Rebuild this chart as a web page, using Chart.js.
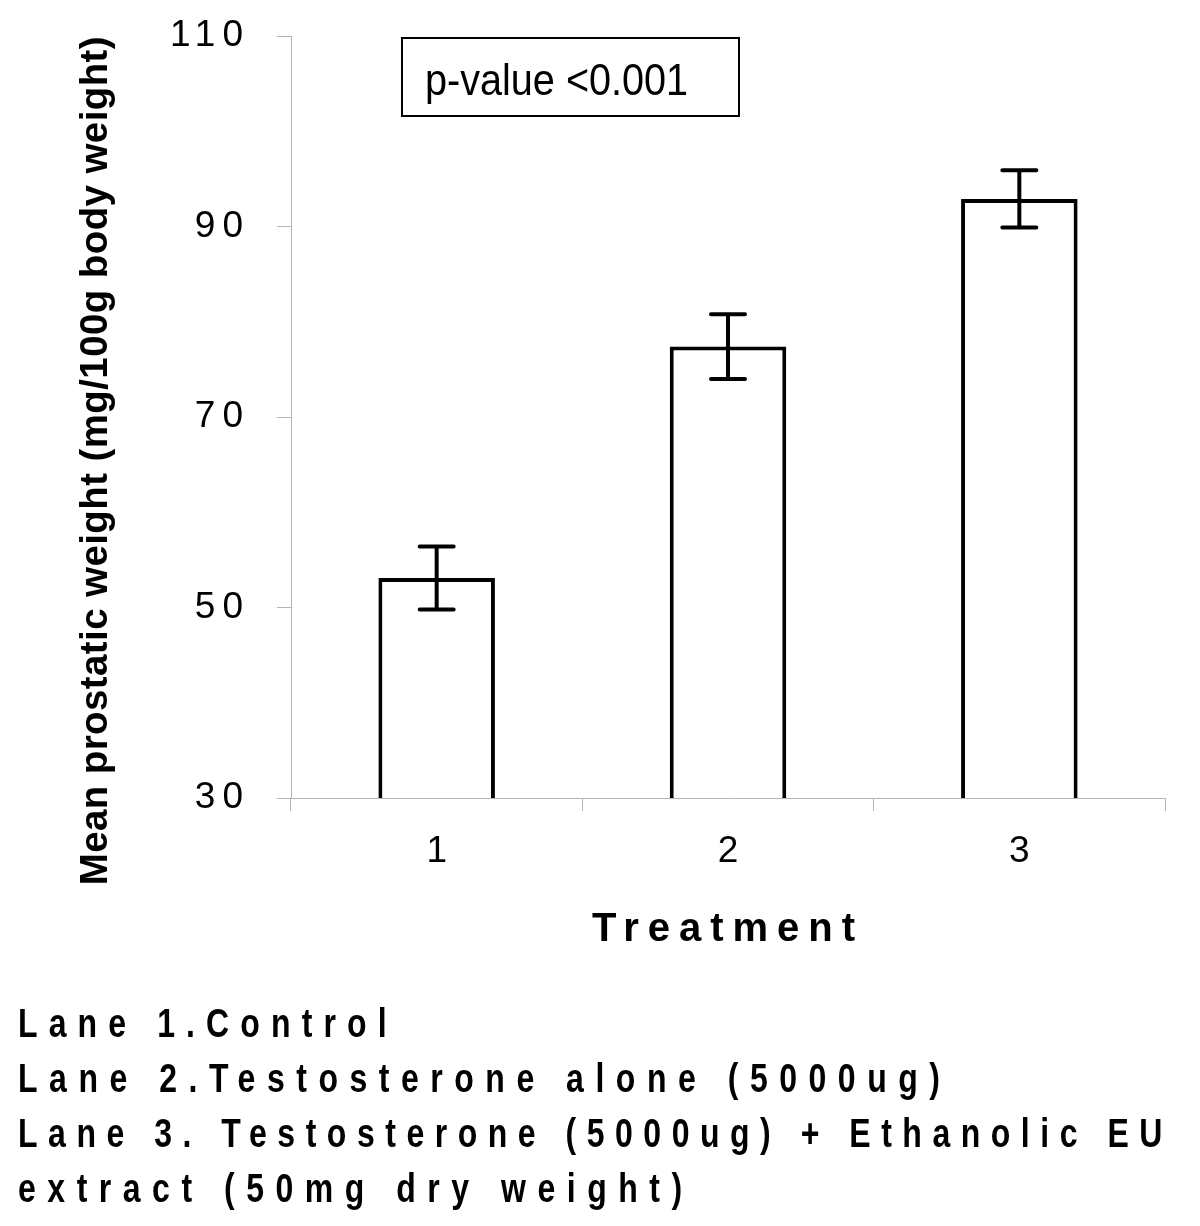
<!DOCTYPE html>
<html>
<head>
<meta charset="utf-8">
<script src="https://cdn.jsdelivr.net/npm/chart.js@4.4.0/dist/chart.umd.min.js"></script>
<style>
  html, body { margin: 0; padding: 0; background: #fff; }
  #wrap { position: relative; width: 1200px; height: 1226px; overflow: hidden; }
  #c { position: absolute; left: 0; top: 0; }
  #footer {
    position: absolute; left: 18px; top: 996px;
    font-family: 'Liberation Sans', Arial, sans-serif; font-weight: bold;
    font-size: 40px; line-height: 55px; letter-spacing: 13px; color: #000;
    transform: scaleX(0.8); transform-origin: 0 0; white-space: nowrap;
  }
  #footer div:nth-child(1) { letter-spacing: 13.9px; }
  #footer div:nth-child(2) { letter-spacing: 14.4px; }
  #footer div:nth-child(3) { letter-spacing: 13.15px; }
  #footer div:nth-child(4) { letter-spacing: 14.4px; }
</style>
</head>
<body>
<div id="wrap">
  <canvas id="c" width="1200" height="1226"></canvas>
  <div id="footer"></div>
</div>
<script>
// ---- data ----
const categories = ['1', '2', '3'];
const meanWeight = [53.1, 77.4, 92.9];
const errorSD = [3.3, 3.4, 3.0];
const yTicks = [30, 50, 70, 90, 110];
const annotationText = 'p-value <0.001';
const xTitle = 'Treatment';
const yTitle = 'Mean prostatic weight (mg/100g body weight)';
const footerLines = [
  'Lane 1.Control',
  'Lane 2.Testosterone alone (5000ug)',
  'Lane 3. Testosterone (5000ug) + Ethanolic EU',
  'extract (50mg dry weight)'
];

document.getElementById('footer').innerHTML = footerLines.map(l => '<div>' + l + '</div>').join('');

const AXIS_GRAY = '#b4b4b4';
const FONT = "'Liberation Sans', Arial, sans-serif";

const spacingPlugin = {
  id: 'spacing',
  afterLayout(chart) {
    const patch = (scale, fn, sp) => {
      if (scale['_p_' + fn]) return;
      const orig = scale[fn];
      scale[fn] = function (...a) {
        const c = this.ctx; const prev = c.letterSpacing;
        c.letterSpacing = sp; orig.apply(this, a); c.letterSpacing = prev;
      };
      scale['_p_' + fn] = true;
    };
    patch(chart.scales.y, 'drawLabels', '7px');
    patch(chart.scales.x, 'drawTitle', '9px');
    patch(chart.scales.y, 'drawTitle', '0.4px');
  }
};

const errorBarPlugin = {
  id: 'errorBars',
  afterDatasetsDraw(chart) {
    const ctx = chart.ctx;
    const meta = chart.getDatasetMeta(0);
    const y = chart.scales.y;
    ctx.save();
    ctx.strokeStyle = '#000'; ctx.lineWidth = 4; ctx.lineCap = 'round';
    meta.data.forEach((bar, i) => {
      const x = bar.x;
      const top = y.getPixelForValue(meanWeight[i] + errorSD[i]);
      const bot = y.getPixelForValue(meanWeight[i] - errorSD[i]);
      const half = 17;
      ctx.beginPath();
      ctx.moveTo(x, top); ctx.lineTo(x, bot);
      ctx.moveTo(x - half, top); ctx.lineTo(x + half, top);
      ctx.moveTo(x - half, bot); ctx.lineTo(x + half, bot);
      ctx.stroke();
    });
    ctx.restore();
  }
};

const annotationPlugin = {
  id: 'pvalueBox',
  afterDraw(chart) {
    const ctx = chart.ctx;
    const a = chart.chartArea;
    const bx = a.left + 111, by = a.top + 2, bw = 337, bh = 78;
    ctx.save();
    ctx.strokeStyle = '#000'; ctx.lineWidth = 2;
    ctx.strokeRect(bx, by, bw, bh);
    ctx.fillStyle = '#000';
    ctx.font = '44px ' + FONT;
    ctx.textBaseline = 'alphabetic';
    ctx.translate(bx + 23, by + 57);
    ctx.scale(0.9, 1);
    ctx.fillText(annotationText, 0, 0);
    ctx.restore();
  }
};

new Chart(document.getElementById('c'), {
  type: 'bar',
  data: {
    labels: categories,
    datasets: [{
      data: meanWeight,
      backgroundColor: '#ffffff',
      borderColor: '#000000',
      borderWidth: 4,
      borderSkipped: false,
      barPercentage: 0.4,
      categoryPercentage: 1.0
    }]
  },
  options: {
    responsive: false,
    animation: false,
    layout: { padding: { left: 0, top: 36, right: 35, bottom: 258 } },
    plugins: { legend: { display: false }, tooltip: { enabled: false } },
    scales: {
      x: {
        grid: { drawOnChartArea: false, tickLength: 13, color: AXIS_GRAY, lineWidth: 1, offset: true },
        border: { color: AXIS_GRAY, width: 1 },
        ticks: { font: { family: FONT, size: 37 }, color: '#000', padding: 19 },
        title: { display: true, text: xTitle, color: '#000',
                 font: { family: FONT, size: 40, weight: 'bold' }, padding: { top: 0, bottom: 14 } },
        afterFit(s) { s.height = 170; s.paddingLeft = 0; s.paddingRight = 0; }
      },
      y: {
        min: 30, max: 110,
        afterBuildTicks(s) { s.ticks = yTicks.map(v => ({ value: v })); },
        grid: { drawOnChartArea: false, tickLength: 14, color: AXIS_GRAY, lineWidth: 1 },
        border: { color: AXIS_GRAY, width: 1 },
        ticks: { font: { family: FONT, size: 37 }, color: '#000', padding: 27 },
        title: { display: true, text: yTitle, align: 'end', color: '#000',
                 font: { family: FONT, size: 38.5, weight: 'bold' }, padding: { top: 73, bottom: 0 } },
        afterFit(s) { s.width = 291; s.paddingTop = 0; s.paddingBottom = 0; }
      }
    }
  },
  plugins: [spacingPlugin, errorBarPlugin, annotationPlugin]
});
</script>
</body>
</html>
